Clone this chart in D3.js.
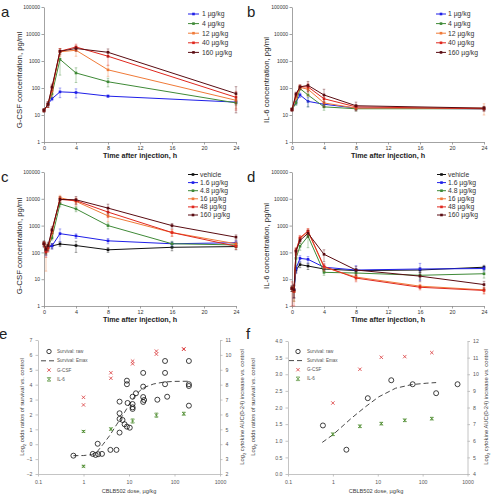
<!DOCTYPE html>
<html><head><meta charset="utf-8">
<script src="https://cdn.jsdelivr.net/npm/d3@7"></script>
<style>body{margin:0;background:#fff} svg{display:block}</style>
</head><body><svg width="492" height="498"></svg>
<script>
// ---------- DATA ----------
const timesAB = [0, 0.5, 1, 2, 4, 8, 24];
const timesCD = [0, 0.25, 0.5, 1, 2, 4, 8, 16, 24];
const timeTicks = [0, 4, 8, 12, 16, 20, 24];
const logTicks = [1, 10, 100, 1000, 10000, 100000];
const labelsAB = ["1 µg/kg", "4 µg/kg", "12 µg/kg", "40 µg/kg", "160 µg/kg"];
const labelsCD = ["vehicle", "1.6 µg/kg", "4.8 µg/kg", "16 µg/kg", "48 µg/kg", "160 µg/kg"];
const colorsAB = ["#1f1fe8", "#3f8a37", "#f07a38", "#e0281e", "#5a0c12"];
const colorsCD = ["#111111", "#1f1fe8", "#3f8a37", "#f07a38", "#e0281e", "#5a0c12"];

const gcsfA = [
  [15, 25, 40, 72, 68, 50, 30],
  [15, 25, 60, 1150, 360, 170, 28],
  [15, 25, 80, 2200, 2500, 470, 35],
  [15, 25, 100, 2300, 3300, 1500, 45],
  [15, 25, 110, 2300, 2900, 2100, 62]
];
const gcsfAErr = [
  [2, 4, 6, 28, 25, 5, 4],
  [2, 4, 15, 850, 200, 60, 5],
  [2, 6, 30, 700, 1000, 200, 18],
  [2, 6, 30, 600, 900, 800, 30],
  [2, 6, 30, 500, 600, 700, 50]
];
const il6B = [
  [16, 30, 55, 32, 25, 18, 17],
  [16, 28, 95, 55, 20, 17, 17],
  [16, 45, 105, 90, 28, 18, 18],
  [16, 55, 110, 110, 40, 20, 17],
  [16, 60, 110, 125, 55, 22, 18]
];
const il6BErr = [
  [2, 6, 10, 12, 6, 3, 3],
  [2, 5, 15, 35, 5, 3, 3],
  [2, 8, 20, 40, 8, 3, 8],
  [2, 10, 20, 40, 12, 4, 3],
  [2, 10, 20, 50, 35, 8, 3]
];
const gcsfC = [
  [210, 120, 170, 175, 205, 180, 125, 155, 165],
  [210, 115, 150, 175, 500, 410, 270, 210, 230],
  [210, 125, 160, 350, 6500, 4200, 1000, 210, 190],
  [210, 110, 140, 550, 11000, 8000, 2300, 550, 210],
  [210, 105, 150, 650, 9500, 8500, 3200, 550, 170],
  [210, 130, 180, 700, 9500, 9200, 4500, 1000, 370]
];
const gcsfCErr = [
  [60, 40, 40, 40, 40, 80, 25, 40, 40],
  [40, 40, 40, 40, 250, 80, 60, 40, 50],
  [40, 40, 40, 60, 1500, 900, 250, 50, 40],
  [40, 90, 40, 100, 2500, 2500, 900, 150, 50],
  [40, 40, 40, 150, 2000, 2000, 1200, 150, 40],
  [40, 40, 60, 200, 2500, 3000, 1800, 200, 80]
];
const il6D = [
  [4.5, 4, 22, 35, 31, 24, 21, 22, 28],
  [4.5, 4, 25, 60, 55, 28, 22, 24, 25],
  [4.5, 3.5, 60, 170, 400, 18, 17, 14, 16],
  [4.5, 3.5, 110, 330, 600, 28, 12, 5.5, 4],
  [4.5, 3.5, 120, 350, 630, 30, 11, 5, 3.8],
  [4.5, 4, 110, 280, 520, 85, 22, 13, 6.3]
];
const il6DErr = [
  [1, 2, 5, 8, 8, 5, 4, 5, 5],
  [1, 2, 8, 15, 15, 8, 10, 15, 5],
  [1, 2, 30, 50, 250, 4, 4, 4, 5],
  [1, 2, 30, 80, 150, 8, 3, 1, 1],
  [3.5, 3, 30, 80, 150, 8, 3, 1, 1],
  [1, 2, 30, 60, 150, 40, 8, 5, 2]
];

// panel e
const doseTicks = [0.1, 1, 10, 100, 1000];
const survEDose = [0.6, 1.6, 1.85, 2.1, 2.55, 2.05, 3.9, 5.3, 6.2, 6.2, 6.2, 6.2, 7.2, 8.0, 9.0, 10.4, 9.3, 9.0, 9.0, 12, 12, 12, 12, 14.2, 20.5, 20.5, 20.5, 21.5, 20.5, 42, 62, 62, 62, 69, 207, 207, 207, 207];
const survEVal = [-0.77, -0.65, -0.72, -0.67, -0.65, 0.03, -0.38, -0.38, 2.86, 2.08, 1.7, 0.78, 1.63, 1.34, 1.18, 1.11, 2.77, 4.27, 4.03, 3.19, 2.7, 2.48, 2.37, 3.42, 4.79, 3.87, 3.17, 2.97, 2.84, 2.99, 5.59, 4.79, 4.03, 3.19, 5.59, 4.03, 3.91, 2.59];
const emaxEDose = [0.6, 1.0, 1.5, 2.0, 2.7, 3.8, 5.3, 7.5, 10.5, 14, 20, 35, 60, 100, 200];
const emaxEVal = [-0.77, -0.76, -0.7, -0.5, 0.0, 0.6, 1.3, 2.0, 2.75, 3.3, 3.78, 4.05, 4.18, 4.22, 4.23];
const gcsfEDose = [1, 1, 4, 4, 12, 12, 40, 40, 160, 160];
const gcsfEVal = [7.15, 6.64, 8.8, 8.43, 9.58, 9.4, 10.25, 10.05, 10.4, 10.38];
const il6EDose = [1, 1, 4, 12, 40, 160];
const il6EVal = [4.86, 2.52, 5.02, 5.56, 5.95, 6.05];
const il6EErr = [0.06, 0.06, 0.08, 0.14, 0.14, 0.1];

// panel f
const survFDose = [0.6, 2, 6, 20, 60, 200, 600];
const survFVal = [1.46, 0.73, 2.28, 2.82, 2.7, 2.43, 2.7];
const emaxFDose = [0.58, 1.0, 2.6, 5.3, 10.5, 25, 58, 120, 200];
const emaxFVal = [0.95, 1.18, 1.68, 2.02, 2.32, 2.58, 2.69, 2.73, 2.75];
const gcsfFDose = [1, 4, 12, 40, 160];
const gcsfFVal = [8.27, 10.3, 11.02, 11.06, 11.3];
const il6FDose = [1, 4, 12, 40, 160];
const il6FVal = [6.39, 6.87, 7.03, 7.23, 7.33];
const il6FErr = [0.08, 0.08, 0.08, 0.08, 0.08];

const survLegend = ["Survival: raw", "Survival: Emax", "G-CSF", "IL-6"];

// ---------- DRAWING ----------
const FONT = "'Liberation Sans', Arial, Helvetica, sans-serif";
const svg = d3.select("svg").attr("font-family", FONT);
const axisColor = "#8c8c8c";

function styleAxis(sel, size, color) {
  sel.select(".domain").attr("stroke", axisColor).attr("stroke-width", 0.8);
  sel.selectAll(".tick line").attr("stroke", axisColor).attr("stroke-width", 0.8);
  sel.selectAll(".tick text").attr("font-size", size).attr("fill", color).attr("font-family", FONT);
}

function panelLetter(t, x, y) {
  svg.append("text").attr("x", x).attr("y", y).attr("font-size", 15).attr("fill", "#222").text(t);
}

function linePanel(o) {
  const x = d3.scaleLinear().domain([0, 24]).range([o.x0, o.x1]);
  const y = d3.scaleLog().domain([1, 1e5]).range([o.y1, o.y0]);
  const g = svg.append("g");
  g.append("g").attr("transform", `translate(0,${o.y1})`)
    .call(d3.axisBottom(x).tickValues(timeTicks).tickSize(2.5).tickSizeOuter(0).tickPadding(2))
    .call(s => styleAxis(s, 5.4, "#333"));
  g.append("g").attr("transform", `translate(${o.x0},0)`)
    .call(d3.axisLeft(y).tickValues(logTicks).tickFormat(d3.format("d")).tickSize(2.5).tickSizeOuter(0).tickPadding(1.5))
    .call(s => styleAxis(s, 5, "#333"));

  const line = d3.line().x((d, i) => x(o.times[i])).y(d => y(d));
  o.values.forEach((vals, k) => {
    const c = o.colors[k];
    const sg = g.append("g");
    vals.forEach((v, i) => {
      const e = o.errs[k][i];
      const xx = x(o.times[i]);
      const lo = y(Math.max(v - e, 1)), hi = y(v + e);
      sg.append("line").attr("x1", xx).attr("x2", xx).attr("y1", lo).attr("y2", hi)
        .attr("stroke", c).attr("stroke-opacity", 0.55).attr("stroke-width", 0.7);
      [lo, hi].forEach(yy => sg.append("line").attr("x1", xx - 1.3).attr("x2", xx + 1.3)
        .attr("y1", yy).attr("y2", yy).attr("stroke", c).attr("stroke-opacity", 0.55).attr("stroke-width", 0.7));
    });
    sg.append("path").datum(vals).attr("d", line).attr("fill", "none")
      .attr("stroke", c).attr("stroke-width", 1);
    sg.selectAll("rect").data(vals).join("rect")
      .attr("x", (d, i) => x(o.times[i]) - 1.3).attr("y", d => y(d) - 1.3)
      .attr("width", 2.6).attr("height", 2.6).attr("fill", c);
  });

  o.labels.forEach((lab, k) => {
    const ly = o.ly + k * o.ldy;
    g.append("line").attr("x1", o.lx0).attr("x2", o.lx1).attr("y1", ly).attr("y2", ly)
      .attr("stroke", o.colors[k]).attr("stroke-width", 1);
    g.append("rect").attr("x", (o.lx0 + o.lx1) / 2 - 1.3).attr("y", ly - 1.3)
      .attr("width", 2.6).attr("height", 2.6).attr("fill", o.colors[k]);
    g.append("text").attr("x", o.tx).attr("y", ly).attr("dy", "0.35em")
      .attr("font-size", 6.8).attr("fill", "#333").text(lab);
  });

  g.append("text").attr("x", (o.x0 + o.x1) / 2).attr("y", o.y1 + 15.5)
    .attr("text-anchor", "middle").attr("font-size", 7.2).attr("font-weight", "bold")
    .attr("fill", "#222").text("Time after injection, h");
  g.append("text").attr("transform", `translate(${o.ytx},${o.yty}) rotate(-90)`)
    .attr("text-anchor", "middle").attr("font-size", 7.8).attr("fill", "#222").text(o.ytitle);
  panelLetter(o.letter, o.lx, o.lyL);
}

function xMark(g, cx, cy, s, color) {
  g.append("path").attr("d", `M${cx - s},${cy - s}L${cx + s},${cy + s}M${cx - s},${cy + s}L${cx + s},${cy - s}`)
    .attr("stroke", color).attr("stroke-width", 0.8).attr("fill", "none");
}

function subTitle(g, tx, ty, pre, rest) {
  const t = g.append("text").attr("transform", `translate(${tx},${ty}) rotate(-90)`)
    .attr("text-anchor", "middle").attr("font-size", 5.8).attr("fill", "#404040");
  t.append("tspan").text(pre);
  t.append("tspan").attr("font-size", 4).attr("dy", 1.5).text("2");
  t.append("tspan").attr("dy", -1.5).text(rest);
}

function scatterPanel(o) {
  const x = d3.scaleLog().domain([0.1, 1000]).range([o.x0, o.x1]);
  const yL = d3.scaleLinear().domain(o.lDom).range([o.y1, o.y0]);
  const yR = d3.scaleLinear().domain(o.rDom).range([o.y1, o.y0]);
  const g = svg.append("g");
  const tc = "#595959";
  g.append("g").attr("transform", `translate(0,${o.y1})`)
    .call(d3.axisBottom(x).tickValues(doseTicks).tickFormat(d3.format("~g")).tickSize(2.5).tickSizeOuter(0).tickPadding(4))
    .call(s => styleAxis(s, 5.2, tc));
  g.append("g").attr("transform", `translate(${o.x0},0)`)
    .call(d3.axisLeft(yL).tickValues(o.lTicks).tickFormat(o.lFmt).tickSize(2.5).tickSizeOuter(0).tickPadding(3))
    .call(s => styleAxis(s, 5.2, tc));
  g.append("g").attr("transform", `translate(${o.x1},0)`)
    .call(d3.axisRight(yR).tickValues(o.rTicks).tickFormat(d3.format("d")).tickSize(2.5).tickSizeOuter(0).tickPadding(3))
    .call(s => styleAxis(s, 5.2, tc));
  g.selectAll(".domain").attr("stroke", "#b5b5b5");
  g.selectAll(".tick line").attr("stroke", "#b5b5b5");

  const line = d3.line().x((d, i) => x(o.emaxDose[i])).y(d => yL(d));
  g.append("path").datum(o.emaxVal).attr("d", line).attr("fill", "none")
    .attr("stroke", "#333").attr("stroke-width", 0.9).attr("stroke-dasharray", "5,3");

  g.selectAll("circle.s").data(o.survVal).join("circle").attr("class", "s")
    .attr("cx", (d, i) => x(o.survDose[i])).attr("cy", d => yL(d)).attr("r", 2.5)
    .attr("fill", "none").attr("stroke", "#111").attr("stroke-width", 0.8);

  o.gVal.forEach((v, i) => xMark(g, x(o.gDose[i]), yR(v), 1.7, "#d9383a"));
  o.iVal.forEach((v, i) => {
    const cx = x(o.iDose[i]);
    const e = o.iErr[i];
    const lo = yR(v - e), hi = yR(v + e);
    g.append("line").attr("x1", cx).attr("x2", cx).attr("y1", lo).attr("y2", hi).attr("stroke", "#4d8c2e").attr("stroke-width", 0.7);
    [lo, hi].forEach(yy => g.append("line").attr("x1", cx - 1.8).attr("x2", cx + 1.8).attr("y1", yy).attr("y2", yy)
      .attr("stroke", "#4d8c2e").attr("stroke-width", 0.7));
    xMark(g, cx, yR(v), 1.6, "#4d8c2e");
  });

  // legend
  const L = o.leg;
  survLegend.forEach((lab, k) => {
    const ly = L.y + k * L.dy;
    if (k === 0) g.append("circle").attr("cx", L.mx).attr("cy", ly).attr("r", 2.2).attr("fill", "none").attr("stroke", "#111").attr("stroke-width", 0.8);
    if (k === 1) g.append("line").attr("x1", L.dx0).attr("x2", L.dx1).attr("y1", ly).attr("y2", ly)
      .attr("stroke", "#333").attr("stroke-width", 0.9).attr("stroke-dasharray", "5,3");
    if (k === 2) xMark(g, L.mx, ly, 1.7, "#d9383a");
    if (k === 3) {
      xMark(g, L.mx, ly, 1.6, "#4d8c2e");
      [ly - 1.8, ly + 1.8].forEach(yy => g.append("line").attr("x1", L.mx - 1.8).attr("x2", L.mx + 1.8).attr("y1", yy).attr("y2", yy).attr("stroke", "#4d8c2e").attr("stroke-width", 0.7));
    }
    g.append("text").attr("x", L.tx).attr("y", ly).attr("dy", "0.35em").attr("font-size", 4.6)
      .attr("fill", "#555").text(lab);
  });

  g.append("text").attr("x", o.xtx).attr("y", o.y1 + 19)
    .attr("text-anchor", "middle").attr("font-size", 5.6).attr("fill", "#404040").text("CBLB502 dose, µg/kg");
  subTitle(g, o.lTx, o.tY, "Log", " odds ratios of survival vs. control");
  subTitle(g, o.rTx, o.tY, "Log", " cytokine AUC(0-24) increase vs. control");
  panelLetter(o.letter, o.lx, o.lyL);
}

// Panel a
linePanel({ x0: 44, x1: 236, y0: 7, y1: 142, times: timesAB, values: gcsfA, errs: gcsfAErr,
  colors: colorsAB, labels: labelsAB, lx0: 188, lx1: 199, tx: 202, ly: 14, ldy: 9.6,
  ytitle: "G-CSF concentration, pg/ml", ytx: 21.5, yty: 80, letter: "a", lx: 1, lyL: 17 });
// Panel b
linePanel({ x0: 292, x1: 484, y0: 7, y1: 142, times: timesAB, values: il6B, errs: il6BErr,
  colors: colorsAB, labels: labelsAB, lx0: 436, lx1: 446, tx: 448, ly: 14, ldy: 9.6,
  ytitle: "IL-6 concentration, pg/ml", ytx: 269, yty: 80, letter: "b", lx: 247, lyL: 17 });
// Panel c
linePanel({ x0: 44, x1: 236, y0: 172, y1: 306, times: timesCD, values: gcsfC, errs: gcsfCErr,
  colors: colorsCD, labels: labelsCD, lx0: 188, lx1: 198, tx: 200, ly: 174.5, ldy: 8.1,
  ytitle: "G-CSF concentration, pg/ml", ytx: 21.5, yty: 246, letter: "c", lx: 1, lyL: 182 });
// Panel d
linePanel({ x0: 292, x1: 484, y0: 172, y1: 306, times: timesCD, values: il6D, errs: il6DErr,
  colors: colorsCD, labels: labelsCD, lx0: 437, lx1: 446, tx: 448, ly: 174.5, ldy: 8.1,
  ytitle: "IL-6 concentration, pg/ml", ytx: 269, yty: 246, letter: "d", lx: 247, lyL: 182 });

// Panel e
scatterPanel({ x0: 38, x1: 220, y0: 340, y1: 474, lDom: [-2, 7], rDom: [2, 11],
  lTicks: d3.range(-2, 8), lFmt: d3.format("d"), rTicks: d3.range(2, 12),
  survDose: survEDose, survVal: survEVal, emaxDose: emaxEDose, emaxVal: emaxEVal,
  gDose: gcsfEDose, gVal: gcsfEVal, iDose: il6EDose, iVal: il6EVal, iErr: il6EErr,
  leg: { mx: 49, tx: 57, y: 351.5, dy: 9.3, dx0: 41, dx1: 56 },
  xtx: 129, lTx: 24, rTx: 244, tY: 407, letter: "e", lx: -1, lyL: 339 });
// Panel f
scatterPanel({ x0: 288, x1: 467.5, y0: 341, y1: 474, lDom: [0, 4], rDom: [4, 12],
  lTicks: d3.range(0, 4.01, 0.5), lFmt: d3.format(".1f"), rTicks: d3.range(4, 13),
  survDose: survFDose, survVal: survFVal, emaxDose: emaxFDose, emaxVal: emaxFVal,
  gDose: gcsfFDose, gVal: gcsfFVal, iDose: il6FDose, iVal: il6FVal, iErr: il6FErr,
  leg: { mx: 298, tx: 307, y: 351.5, dy: 9.1, dx0: 289, dx1: 305 },
  xtx: 376, lTx: 255, rTx: 488, tY: 407, letter: "f", lx: 246, lyL: 338.5 });
</script></body></html>
